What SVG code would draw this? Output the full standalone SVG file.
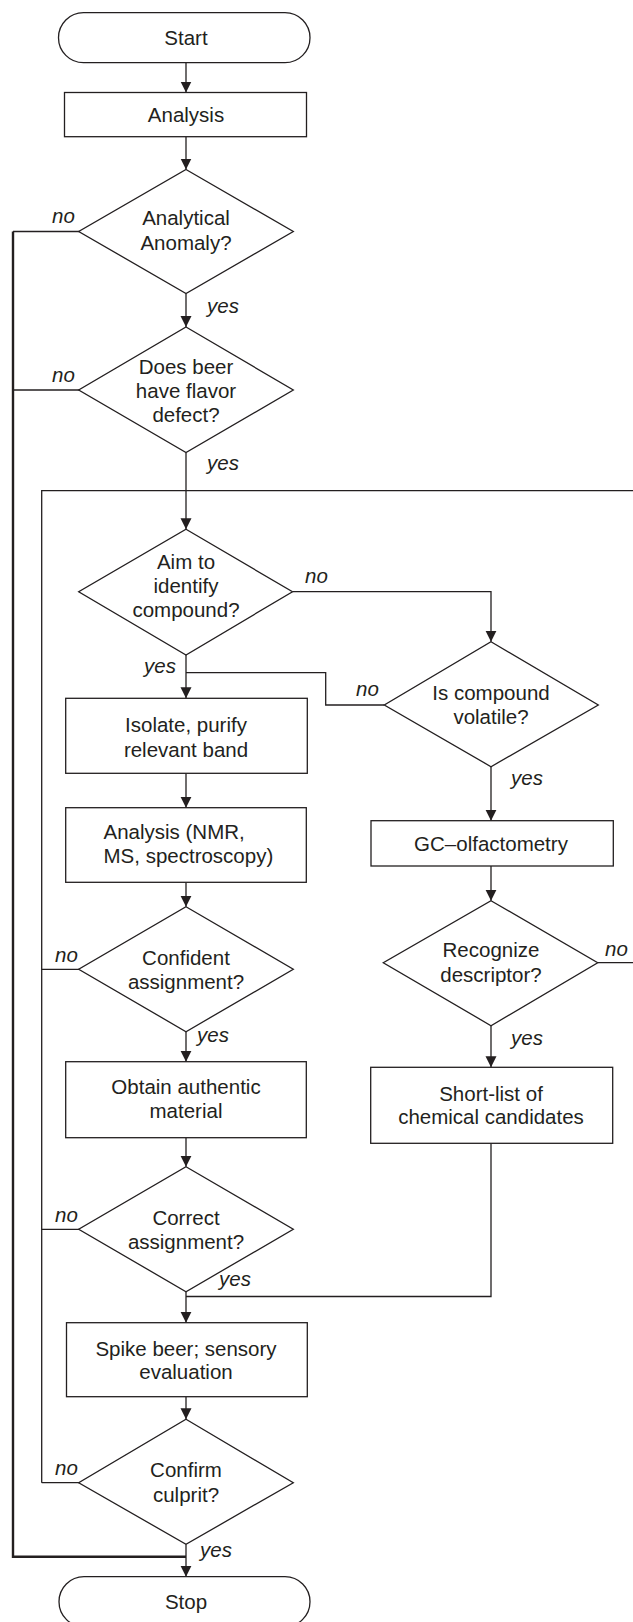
<svg xmlns="http://www.w3.org/2000/svg" width="633" height="1622" viewBox="0 0 633 1622">
  <style>
    .shape { fill: #ffffff; stroke: #231f20; stroke-width: 1.3; }
    .wire { fill: none; stroke: #231f20; stroke-width: 1.3; }
    .bus { fill: none; stroke: #231f20; stroke-width: 2.4; }
    text { font-family: "Liberation Sans", Arial, Helvetica, sans-serif; font-size: 20.5px; fill: #231f20; }
    .c { text-anchor: middle; }
    .lbl { font-style: italic; }
  </style>
  <defs>
    <marker id="arrow" markerUnits="userSpaceOnUse" markerWidth="12" markerHeight="12" refX="11" refY="6" orient="auto">
      <path d="M0,0.5 L11,6 L0,11.5 Z" fill="#231f20"/>
    </marker>
  </defs>

  <rect width="633" height="1622" fill="#ffffff"/>

  <!-- connectors -->
  <g id="connectors">
    <!-- main column -->
    <path class="wire" d="M186,62.7 V92.5" marker-end="url(#arrow)"/>
    <path class="wire" d="M186,136.7 V169.5" marker-end="url(#arrow)"/>
    <path class="wire" d="M186,293.5 V327" marker-end="url(#arrow)"/>
    <path class="wire" d="M186,452.5 V529.3" marker-end="url(#arrow)"/>
    <path class="wire" d="M186,655 V698.3" marker-end="url(#arrow)"/>
    <path class="wire" d="M186,773.3 V807.7" marker-end="url(#arrow)"/>
    <path class="wire" d="M186,882.3 V906.7" marker-end="url(#arrow)"/>
    <path class="wire" d="M186,1031.7 V1061.7" marker-end="url(#arrow)"/>
    <path class="wire" d="M186,1137.7 V1166.7" marker-end="url(#arrow)"/>
    <path class="wire" d="M186,1291.7 V1322.7" marker-end="url(#arrow)"/>
    <path class="wire" d="M186,1396.7 V1419.3" marker-end="url(#arrow)"/>
    <path class="wire" d="M186,1544.3 V1576.7" marker-end="url(#arrow)"/>

    <!-- outer "no" bus to Stop -->
    <path class="wire" d="M79,231.5 H13"/>
    <path class="wire" d="M79,390 H13"/>
    <path class="bus" d="M13,231.5 V1556.7 H186"/>

    <!-- inner retry loop -->
    <path class="wire" d="M41.7,1482.7 V490.7 H633"/>
    <path class="wire" d="M79,969.3 H41.7"/>
    <path class="wire" d="M79,1229.3 H41.7"/>
    <path class="wire" d="M79,1482.7 H41.7"/>

    <!-- right column -->
    <path class="wire" d="M292.5,591.7 H491 V641.7" marker-end="url(#arrow)"/>
    <path class="wire" d="M384.3,705 H325.7 V672.7 H186"/>
    <path class="wire" d="M491,766.7 V820.7" marker-end="url(#arrow)"/>
    <path class="wire" d="M491,866 V900.7" marker-end="url(#arrow)"/>
    <path class="wire" d="M491,1025.7 V1067.3" marker-end="url(#arrow)"/>
    <path class="wire" d="M597.7,962.7 H633"/>
    <path class="wire" d="M491,1143.3 V1296.5 H186"/>

    <!-- branch labels -->
    <text class="lbl" x="52" y="223">no</text>
    <text class="lbl" x="207" y="313">yes</text>
    <text class="lbl" x="52" y="382">no</text>
    <text class="lbl" x="207" y="470">yes</text>
    <text class="lbl" x="305" y="583">no</text>
    <text class="lbl" x="144" y="673">yes</text>
    <text class="lbl" x="356" y="696">no</text>
    <text class="lbl" x="511" y="785">yes</text>
    <text class="lbl" x="55" y="962">no</text>
    <text class="lbl" x="605" y="956">no</text>
    <text class="lbl" x="197" y="1042">yes</text>
    <text class="lbl" x="511" y="1045">yes</text>
    <text class="lbl" x="55" y="1222">no</text>
    <text class="lbl" x="219" y="1286">yes</text>
    <text class="lbl" x="55" y="1475">no</text>
    <text class="lbl" x="200" y="1557">yes</text>
  </g>

  <!-- nodes -->
  <g id="start">
    <rect class="shape" x="58.5" y="12.7" width="251.5" height="50" rx="25" ry="25"/>
    <text class="c" x="186" y="45">Start</text>
  </g>

  <g id="analysis">
    <rect class="shape" x="64.5" y="92.5" width="242" height="44.2"/>
    <text class="c" x="186" y="122">Analysis</text>
  </g>

  <g id="analytical-anomaly">
    <polygon class="shape" points="186,169.5 293.3,231.5 186,293.5 78.7,231.5"/>
    <text class="c" x="186" y="225">Analytical</text>
    <text class="c" x="186" y="250">Anomaly?</text>
  </g>

  <g id="flavor-defect">
    <polygon class="shape" points="186,327 293.3,390 186,452.5 78.7,390"/>
    <text class="c" x="186" y="373.5">Does beer</text>
    <text class="c" x="186" y="397.5">have flavor</text>
    <text class="c" x="186" y="421.5">defect?</text>
  </g>

  <g id="aim-identify">
    <polygon class="shape" points="186,529.3 292.5,591.7 186,655 78.7,591.7"/>
    <text class="c" x="186" y="568.5">Aim to</text>
    <text class="c" x="186" y="593">identify</text>
    <text class="c" x="186" y="617">compound?</text>
  </g>

  <g id="isolate">
    <rect class="shape" x="65.7" y="698.3" width="241.6" height="75"/>
    <text class="c" x="186" y="732">Isolate, purify</text>
    <text class="c" x="186" y="756.5">relevant band</text>
  </g>

  <g id="analysis-nmr">
    <rect class="shape" x="65.7" y="807.7" width="240.6" height="74.6"/>
    <text x="103.5" y="838.5">Analysis (NMR,</text>
    <text x="103.5" y="862.7">MS, spectroscopy)</text>
  </g>

  <g id="confident-assignment">
    <polygon class="shape" points="186,906.7 293.3,969.3 186,1031.7 78.7,969.3"/>
    <text class="c" x="186" y="965">Confident</text>
    <text class="c" x="186" y="988.5">assignment?</text>
  </g>

  <g id="obtain-material">
    <rect class="shape" x="65.7" y="1061.7" width="240.6" height="76"/>
    <text class="c" x="186" y="1093.5">Obtain authentic</text>
    <text class="c" x="186" y="1117.5">material</text>
  </g>

  <g id="correct-assignment">
    <polygon class="shape" points="186,1166.7 293.3,1229.3 186,1291.7 78.7,1229.3"/>
    <text class="c" x="186" y="1225">Correct</text>
    <text class="c" x="186" y="1248.5">assignment?</text>
  </g>

  <g id="spike-beer">
    <rect class="shape" x="66.5" y="1322.7" width="240.8" height="74"/>
    <text class="c" x="186" y="1355.7">Spike beer; sensory</text>
    <text class="c" x="186" y="1378.5">evaluation</text>
  </g>

  <g id="confirm-culprit">
    <polygon class="shape" points="186,1419.3 293.3,1482.7 186,1544.3 78.7,1482.7"/>
    <text class="c" x="186" y="1476.7">Confirm</text>
    <text class="c" x="186" y="1501.7">culprit?</text>
  </g>

  <g id="stop">
    <rect class="shape" x="59" y="1576.7" width="251" height="50" rx="25" ry="25"/>
    <text class="c" x="186" y="1608.5">Stop</text>
  </g>

  <g id="compound-volatile">
    <polygon class="shape" points="491,641.7 598.3,705 491,766.7 384.3,705"/>
    <text class="c" x="491" y="700">Is compound</text>
    <text class="c" x="491" y="724">volatile?</text>
  </g>

  <g id="gc-olfactometry">
    <rect class="shape" x="371" y="820.7" width="242.3" height="45.3"/>
    <text class="c" x="491" y="851">GC–olfactometry</text>
  </g>

  <g id="recognize-descriptor">
    <polygon class="shape" points="491,900.7 597.7,962.7 491,1025.7 383.3,962.7"/>
    <text class="c" x="491" y="956.7">Recognize</text>
    <text class="c" x="491" y="981.5">descriptor?</text>
  </g>

  <g id="short-list">
    <rect class="shape" x="370.7" y="1067.3" width="242" height="76"/>
    <text class="c" x="491" y="1100.7">Short-list of</text>
    <text class="c" x="491" y="1124">chemical candidates</text>
  </g>
</svg>
